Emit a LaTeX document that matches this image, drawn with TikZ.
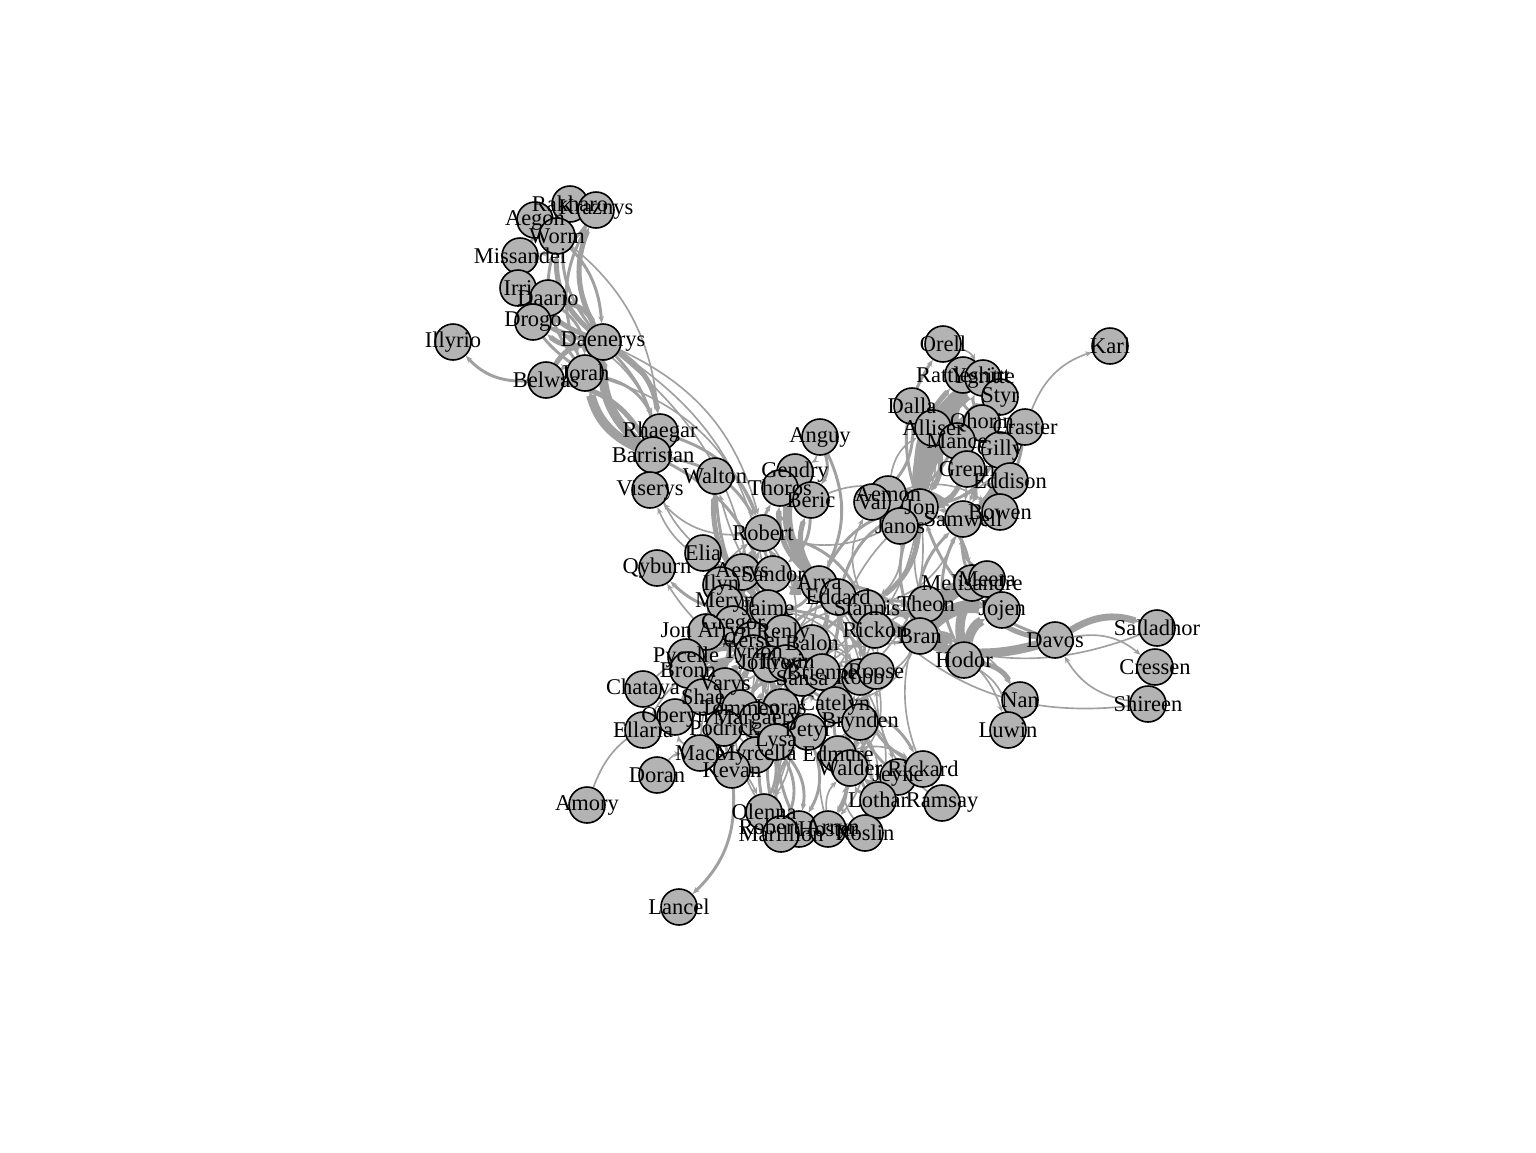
\documentclass[tikz,border=0pt]{standalone}
\usepackage{fontspec}
\setmainfont{Liberation Serif}
\usetikzlibrary{arrows.meta}
\pgfdeclarelayer{edgelayer}
\pgfsetlayers{edgelayer,main}
\definecolor{vfill}{HTML}{B3B3B3}
\definecolor{ecol}{HTML}{A0A0A0}
\tikzset{
 vtx/.style={circle,draw=black,fill=vfill,line width=1.6pt,minimum size=36pt,inner sep=0pt},
 lbl/.style={inner sep=0pt,font=\fontsize{22.5}{24}\selectfont,text=black},
 edg/.style={draw=ecol,-{Stealth[length=7pt,width=5.5pt]},bend left=25},
}
\def\nodelist{Aegon/Aegon/535/220, Rakharo/Rakharo/570/204, Kraznys/Kraznys/596/210, Worm/Worm/557/236, Missandei/Missandei/520/256, Irri/Irri/518/288, Daario/Daario/548/298, Drogo/Drogo/533/322, Illyrio/Illyrio/453/342, Daenerys/Daenerys/603/342, Jorah/Jorah/585/373, Belwas/Belwas/546/380, Rhaegar/Rhaegar/660/432, Barristan/Barristan/653/455, Viserys/Viserys/650/490, Walton/Walton/715/476, Anguy/Anguy/820/437, Gendry/Gendry/795/472, Thoros/Thoros/780/488, Beric/Beric/811/500, Robert/Robert/763/533, Elia/Elia/703/553, Aerys/Aerys/742/572, Qyburn/Qyburn/657/568, Sandor/Sandor/773/574, Ilyn/Ilyn/721/585, Arya/Arya/819/584, Eddard/Eddard/838/597, Meryn/Meryn/725/603, Jaime/Jaime/768/608, Stannis/Stannis/867/608, Gregor/Gregor/733/624, JonArryn/Jon Arryn/706/632, Cersei/Cersei/752/640, Renly/Renly/783/633, Balon/Balon/812/643, Rickon/Rickon/875/630, Theon/Theon/926/604, Bran/Bran/920/636, Melisandre/Melisandre/972/583, Meera/Meera/987/579, Jojen/Jojen/1002/610, Davos/Davos/1055/640, Salladhor/Salladhor/1157/628, Cressen/Cressen/1155/667, Shireen/Shireen/1148/704, Hodor/Hodor/964/660, Nan/Nan/1020/700, Luwin/Luwin/1008/730, Pycelle/Pycelle/686/657, Tyrion/Tyrion/753/653, Joffrey/Joffrey/770/664, Tywin/Tywin/786/663, Bronn/Bronn/688/670, Sansa/Sansa/802/678, Brienne/Brienne/822/672, Robb/Robb/860/677, Roose/Roose/876/671, Chataya/Chataya/643/689, Varys/Varys/725/686, Shae/Shae/703/697, Tommen/Tommen/740/708, Loras/Loras/781/707, Catelyn/Catelyn/835/705, Oberyn/Oberyn/675/717, Margaery/Margaery/757/720, Podrick/Podrick/724/728, Brynden/Brynden/860/722, Petyr/Petyr/808/732, Ellaria/Ellaria/643/730, Mace/Mace/700/753, Myrcella/Myrcella/756/755, Lysa/Lysa/776/742, Kevan/Kevan/732/770, Edmure/Edmure/838/754, Walder/Walder/850/768, Jeyne/Jeyne/898/777, Rickard/Rickard/923/769, Doran/Doran/657/775, Amory/Amory/587/805, Lothar/Lothar/878/800, Ramsay/Ramsay/942/803, Olenna/Olenna/764/812, RobertArryn/Robert Arryn/799/829, Marillion/Marillion/781/834, Hoster/Hoster/828/829, Roslin/Roslin/865/833, Lancel/Lancel/679/907, Orell/Orell/943/344, Rattleshirt/Rattleshirt/963/375, Ygritte/Ygritte/983/378, Styr/Styr/1000/397, Karl/Karl/1110/346, Dalla/Dalla/912/406, Alliser/Alliser/933/428, Qhorin/Qhorin/982/423, Craster/Craster/1025/427, Mance/Mance/957/441, Gilly/Gilly/1000/450, Grenn/Grenn/967/469, Eddison/Eddison/1010/481, Aemon/Aemon/888/494, Val/Val/872/502, Jon/Jon/920/507, Janos/Janos/900/526, Samwell/Samwell/963/519, Bowen/Bowen/1000/512}
\begin{document}
\begin{tikzpicture}[x=1pt,y=-1pt]
\useasboundingbox (0,0) rectangle (1536,1152);
\foreach \n/\t/\x/\y in \nodelist {\node[vtx] (\n) at (\x,\y) {};}
\foreach \n/\t/\x/\y in \nodelist {\node[lbl] (t\n) at (\x,\y) {\t};}
\begin{pgfonlayer}{edgelayer}
\foreach \a/\b/\w in {
Aegon/Daenerys/2.4, Daenerys/Kraznys/3.5, Daenerys/Rakharo/2.4, Daenerys/Worm/3.5, Daenerys/Missandei/3.5, Daenerys/Irri/2.4, Daario/Daenerys/3.5, Daenerys/Drogo/3.5, Daenerys/Jorah/6, Belwas/Daenerys/3.5, Barristan/Daenerys/5, Daenerys/Rhaegar/3.5, Daenerys/Viserys/2.4, Belwas/Illyrio/2.4, Barristan/Jorah/5, Belwas/Jorah/2.4, Jorah/Missandei/2.4, Drogo/Jorah/2.4, Daario/Jorah/2.4, Jorah/Kraznys/2.4, Jorah/Worm/2.4, Belwas/Barristan/3.5, Barristan/Rhaegar/2.4, Kraznys/Missandei/2.4, Missandei/Worm/2.4, Irri/Drogo/1.4, Aegon/Rhaegar/1.4, Daenerys/Robert/1.4, Daenerys/Tyrion/1.4, Barristan/Robert/2.4, Rhaegar/Robert/2.4, Elia/Rhaegar/1.4, Robert/Viserys/1.4, Aerys/Viserys/1.4, Barristan/Jaime/2.4, Jorah/Robert/1.4, Jorah/Rhaegar/2.4, Daenerys/Jaime/1.4, Drogo/Rhaegar/1.4,
Jaime/Walton/3.5, Brienne/Walton/2.4, Roose/Walton/1.4,
Anguy/Arya/2.4, Anguy/Beric/2.4, Anguy/Gendry/1.4, Arya/Gendry/5, Beric/Gendry/2.4, Gendry/Thoros/2.4, Arya/Thoros/3.5, Beric/Thoros/3.5, Sandor/Thoros/2.4, Arya/Beric/3.5, Beric/Sandor/2.4, Beric/Jon/1.4, Gendry/Robert/1.4, Arya/Robert/2.4, Eddard/Robert/3.5, Cersei/Robert/2.4, Jaime/Robert/2.4, Robert/Stannis/2.4, Renly/Robert/2.4, Aerys/Robert/1.4, Robert/Tywin/1.4, Robert/Tyrion/1.4, Jon/Robert/1.4, JonArryn/Robert/1.4,
Elia/Oberyn/2.4, Elia/Gregor/2.4, Elia/Tywin/1.4, Aerys/Jaime/3.5, Aerys/Tywin/1.4, Aerys/Tyrion/1.4, Jaime/Qyburn/2.4, Brienne/Qyburn/1.4, Arya/Sandor/6, Gregor/Sandor/2.4, Joffrey/Sandor/2.4, Ilyn/Tyrion/1.4, Ilyn/Joffrey/1.4, Ilyn/Sansa/1.4, Joffrey/Meryn/1.4, Meryn/Sansa/1.4, Cersei/Meryn/1.4,
Brienne/Jaime/6, Cersei/Jaime/3.5, Jaime/Tyrion/3.5, Jaime/Tywin/2.4, Jaime/Loras/2.4, Jaime/Robb/1.4, Catelyn/Jaime/2.4, Jaime/Joffrey/1.4, Jaime/Roose/2.4, Ilyn/Jaime/1.4, Jaime/Meryn/1.4, Bran/Jaime/1.4,
Arya/Jon/2.4, Arya/Bran/2.4, Arya/Robb/2.4, Arya/Catelyn/2.4, Arya/Eddard/2.4, Arya/Sansa/2.4, Arya/Rickon/1.4, Arya/Jaime/2.4, Arya/Tyrion/1.4, Arya/Joffrey/1.4, Arya/Walder/1.4, Arya/Roose/1.4, Arya/Brynden/1.4,
Catelyn/Eddard/2.4, Eddard/Robb/2.4, Eddard/Jon/2.4, Eddard/Sansa/2.4, Bran/Eddard/1.4, Eddard/Stannis/1.4,
Davos/Stannis/5, Melisandre/Stannis/3.5, Jon/Stannis/3.5, Renly/Stannis/2.4, Shireen/Stannis/1.4, Salladhor/Stannis/1.4, Samwell/Stannis/1.4, Stannis/Val/1.4, Janos/Stannis/1.4, Stannis/Tywin/1.4, Joffrey/Stannis/1.4, Davos/Jon/2.4,
Gregor/Oberyn/3.5, Gregor/Tyrion/1.4, Bronn/Gregor/1.4, JonArryn/Lysa/2.4, JonArryn/Petyr/1.4,
Cersei/Tyrion/3.5, Cersei/Tywin/3.5, Cersei/Joffrey/3.5, Cersei/Tommen/2.4, Cersei/Margaery/1.4, Cersei/Loras/1.4, Cersei/Kevan/1.4, Cersei/Varys/1.4, Cersei/Pycelle/1.4, Cersei/Olenna/1.4,
Loras/Renly/2.4, Brienne/Renly/2.4, Margaery/Renly/1.4, Balon/Theon/2.4, Balon/Robb/1.4, Balon/Tywin/1.4,
Sansa/Tyrion/5, Tyrion/Tywin/5, Joffrey/Tyrion/3.5, Bronn/Tyrion/3.5, Shae/Tyrion/3.5, Podrick/Tyrion/3.5, Tyrion/Varys/2.4, Pycelle/Tyrion/2.4, Oberyn/Tyrion/3.5, Kevan/Tyrion/2.4, Margaery/Tyrion/1.4, Chataya/Tyrion/1.4, Mace/Tyrion/1.4, Olenna/Tyrion/1.4, Myrcella/Tyrion/1.4, Ellaria/Tyrion/1.4,
Joffrey/Sansa/3.5, Joffrey/Margaery/2.4, Joffrey/Tywin/1.4, Joffrey/Loras/1.4, Joffrey/Olenna/1.4, Joffrey/Tommen/1.4, Joffrey/Mace/1.4,
Kevan/Tywin/2.4, Mace/Tywin/1.4, Oberyn/Tywin/1.4, Pycelle/Tywin/1.4, Tywin/Varys/1.4, Robb/Tywin/1.4, Tywin/Walder/1.4, Roose/Tywin/1.4,
Petyr/Sansa/3.5, Lysa/Sansa/2.4, Margaery/Sansa/2.4, Olenna/Sansa/2.4, Marillion/Sansa/2.4, RobertArryn/Sansa/2.4, Sansa/Shae/2.4, Catelyn/Sansa/1.4, Robb/Sansa/1.4, Jon/Sansa/1.4,
Brienne/Catelyn/2.4, Brienne/Roose/1.4, Brienne/Robb/1.4, Catelyn/Robb/5, Edmure/Robb/2.4, Brynden/Robb/2.4, Robb/Walder/2.4, Jeyne/Robb/2.4, Lothar/Robb/1.4, Robb/Roslin/1.4, Robb/Roose/2.4, Robb/Theon/1.4, Bran/Robb/1.4, Rickard/Robb/2.4, Hoster/Robb/1.4, Roose/Walder/1.4, Ramsay/Roose/1.4, Catelyn/Roose/1.4, Jon/Robb/1.4, Rickon/Robb/1.4, Bran/Catelyn/1.4, Catelyn/Jon/1.4, Catelyn/Rickon/1.4, Ramsay/Theon/1.4,
Bran/Rickon/2.4, Rickon/Theon/1.4, Bran/Theon/2.4, Bran/Hodor/6, Bran/Meera/6, Bran/Jojen/6, Bran/Jon/2.4, Bran/Luwin/1.4, Bran/Nan/1.4, Bran/Samwell/2.4, Hodor/Meera/5, Hodor/Jojen/5, Hodor/Samwell/2.4, Hodor/Nan/3.5, Hodor/Luwin/1.4, Jojen/Meera/3.5, Jojen/Samwell/2.4, Meera/Samwell/2.4, Hodor/Theon/1.4, Hodor/Jon/1.4,
Shae/Varys/1.4, Pycelle/Varys/1.4, Kevan/Varys/1.4, Loras/Margaery/2.4, Loras/Olenna/1.4, Brienne/Loras/1.4,
Catelyn/Edmure/3.5, Brynden/Catelyn/3.5, Catelyn/Walder/2.4, Catelyn/Lysa/1.4, Catelyn/Hoster/2.4, Catelyn/Lothar/1.4, Catelyn/Roslin/1.4, Catelyn/Jeyne/1.4, Catelyn/Rickard/2.4, Catelyn/Petyr/1.4,
Ellaria/Oberyn/2.4, Doran/Mace/1.4, Amory/Oberyn/1.4, Mace/Oberyn/1.4, Margaery/Olenna/2.4, Margaery/Tommen/1.4, Mace/Margaery/1.4, Podrick/Shae/1.4, Bronn/Podrick/1.4,
Brynden/Edmure/2.4, Brynden/Lysa/1.4, Brynden/Hoster/1.4, Lysa/Petyr/3.5, Marillion/Petyr/2.4, Petyr/RobertArryn/2.4, Lysa/Marillion/2.4, Lysa/RobertArryn/2.4, Kevan/Lancel/2.4,
Edmure/Roslin/2.4, Edmure/Walder/2.4, Edmure/Hoster/2.4, Edmure/Lothar/1.4, Lothar/Walder/2.4, Roslin/Walder/1.4, Jeyne/Walder/1.4, Hoster/Walder/1.4, Edmure/Rickard/1.4, Lothar/Roslin/1.4, Mace/Olenna/1.4, Myrcella/Tommen/1.4, Cersei/Myrcella/1.4,
Jon/Samwell/5, Jon/Ygritte/7, Jon/Qhorin/5, Jon/Mance/5, Jon/Styr/3.5, Jon/Rattleshirt/3.5, Jon/Val/3.5, Aemon/Jon/3.5, Alliser/Jon/3.5, Janos/Jon/3.5, Grenn/Jon/3.5, Eddison/Jon/2.4, Gilly/Jon/2.4, Dalla/Jon/1.4, Jon/Orell/2.4, Bowen/Jon/2.4, Jon/Melisandre/2.4, Craster/Jon/1.4,
Gilly/Samwell/5, Grenn/Samwell/3.5, Craster/Samwell/2.4, Aemon/Samwell/3.5, Eddison/Samwell/2.4, Bowen/Samwell/2.4, Alliser/Samwell/1.4, Mance/Samwell/1.4, Craster/Gilly/2.4, Eddison/Grenn/2.4, Grenn/Mance/1.4,
Dalla/Mance/2.4, Mance/Val/2.4, Mance/Styr/3.5, Mance/Ygritte/3.5, Mance/Rattleshirt/2.4, Mance/Qhorin/2.4, Styr/Ygritte/2.4, Rattleshirt/Ygritte/2.4, Orell/Ygritte/1.4, Qhorin/Rattleshirt/2.4, Qhorin/Ygritte/2.4, Dalla/Val/2.4, Aemon/Janos/1.4, Aemon/Alliser/1.4, Alliser/Janos/1.4, Aemon/Bowen/1.4, Bowen/Eddison/1.4, Craster/Karl/1.4,
Davos/Melisandre/3.5, Davos/Salladhor/4.2, Davos/Cressen/1.4, Shireen/Davos/1.4}
{\pgfmathsetmacro\lw{\w*\w/3+1}\draw[edg,line width=\lw pt] (\a) to (\b);}
\end{pgfonlayer}
\end{tikzpicture}
\end{document}
